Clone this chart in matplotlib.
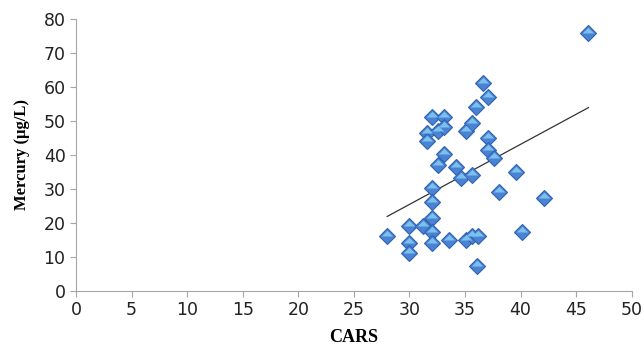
import numpy as np
import matplotlib.pyplot as plt

# CARS vs mercury readings
cars = [28, 30, 30, 30, 31.2, 31.6, 31.6, 32, 32, 32, 32, 32, 32,
        32.6, 32.6, 33.1, 33.1, 33.1, 33.6, 34.2, 34.6, 35.1, 35.6, 35.1,
        35.6, 35.6, 36.2, 36, 36.1, 36.6, 37.1, 37.1, 37.1, 37.6, 38.1,
        39.6, 40.1, 42.1, 46.1]
mercury = [16, 19, 14, 11, 19, 46.5, 44, 51.3, 30.4, 26, 21.4, 17.4, 14.2,
           47, 37, 51.3, 48.3, 40.2, 15, 36.4, 33.1, 46.9, 34.1, 15,
           49.5, 16.2, 16.2, 54.2, 7.4, 61.3, 57, 45, 41.5, 39.2, 29.2,
           35.1, 17.3, 27.3, 76]

x_ticks = list(range(0, 51, 5))
y_ticks = list(range(0, 81, 10))

plt.rcParams.update({"font.family": "DejaVu Sans"})

fig = plt.figure(figsize=(6.44, 3.45), dpi=100)
ax = fig.add_axes([0.118, 0.157, 0.863, 0.788])

# linear trend line over the data range
slope, icpt = np.polyfit(cars, mercury, 1)
xs = np.array([min(cars), max(cars)])
ax.plot(xs, slope * xs + icpt, color="#333333", lw=0.9, zorder=2)

# diamond markers with lighter top half
ax.plot(cars, mercury, ls="none", marker="D", ms=8.2, mfc="#4a82d4",
        mec="#2f62b0", mew=0.8, zorder=3)
top_half = [(-1, 0), (0, 1), (1, 0), (-1, 0)]
ax.plot(cars, mercury, ls="none", marker=top_half, ms=8.2, mfc="#7cc0ee",
        mec="none", zorder=4)

ax.set_xlim(0, 50)
ax.set_ylim(0, 80)
ax.set_xticks(x_ticks)
ax.set_yticks(y_ticks)
for side in ["top", "right"]:
    ax.spines[side].set_visible(False)
for side in ["left", "bottom"]:
    ax.spines[side].set_color("#a6a6a6")
ax.tick_params(colors="#a6a6a6", length=4, width=0.8, labelsize=12.5,
               labelcolor="#222222")
ax.set_xlabel("CARS", fontsize=13, fontweight="bold",
              family="Liberation Serif", labelpad=7)
ax.set_ylabel("Mercury (µg/L)", fontsize=12, fontweight="bold",
              family="Liberation Serif", labelpad=10)

fig.savefig("out.png", dpi=100)
